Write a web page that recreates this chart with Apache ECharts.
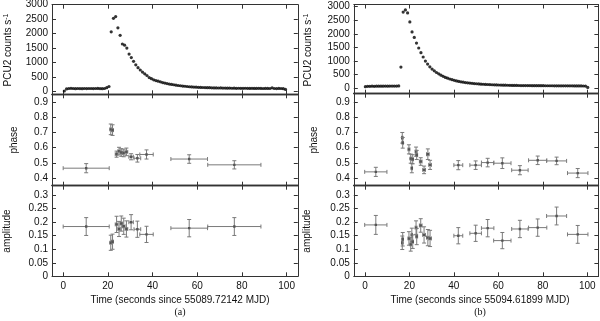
<!DOCTYPE html>
<html><head><meta charset="utf-8">
<script src="https://cdn.jsdelivr.net/npm/echarts@6/dist/echarts.min.js"></script>
<style>html,body{margin:0;padding:0;background:#fff}#c{width:600px;height:321px}</style>
</head><body><div id="c"></div>
<script>
// ---------- data ----------
const xTicks = [0, 20, 40, 60, 80, 100];
const countTicks = [0, 500, 1000, 1500, 2000, 2500, 3000];
const phaseTicks = [0.4, 0.5, 0.6, 0.7, 0.8, 0.9];
const ampTicks = [0, 0.05, 0.1, 0.15, 0.2, 0.25, 0.3];

// panel (a) light curve, 1 s bins starting at t = 0.5
const countsA = [15, 85, 100, 105, 100, 95, 100, 98, 95, 100, 98, 100, 100, 98, 100, 102, 98, 95, 100, 130,
  170, 2060, 2530, 2590, 2200, 1940, 1640, 1600, 1500, 1290, 1170, 1040, 920, 820, 740, 670, 610, 550, 480, 440,
  400, 375, 355, 330, 305, 290, 270, 255, 240, 230, 215, 205, 195, 185, 178, 170, 162, 155, 150, 145,
  140, 138, 135, 132, 130, 128, 125, 122, 120, 118, 120, 116, 115, 112, 115, 110, 112, 108, 110, 108,
  105, 110, 106, 104, 108, 104, 102, 106, 104, 100, 104, 102, 100, 125, 100, 98, 102, 100, 95, 70];
// panel (b) light curve, 1 s bins starting at t = 0.2
const countsB = [60, 70, 72, 75, 72, 75, 78, 75, 78, 80, 78, 80, 82, 80, 82, 85, 780, 2800, 2880, 2770,
  2440, 2070, 1870, 1660, 1480, 1310, 1150, 1000, 890, 790, 705, 640, 580, 530, 480, 440, 400, 370, 340, 315,
  290, 270, 252, 236, 222, 210, 200, 190, 180, 172, 165, 158, 152, 147, 142, 138, 134, 130, 126, 122,
  119, 116, 114, 112, 110, 108, 106, 104, 103, 102, 100, 100, 98, 98, 97, 96, 96, 95, 95, 94,
  94, 93, 93, 92, 92, 91, 91, 90, 90, 90, 89, 89, 88, 88, 87, 87, 86, 85, 84, 80, 30];
const startA = 0.5, startB = 0.2;

// panel (a) pulse fits
const tA = [10.3, 21.3, 22.1, 23.9, 25.0, 26.0, 27.1, 28.3, 30.4, 33.2, 37.3, 56.4, 76.6];
const tErrA = [10.3, 0.4, 0.4, 0.6, 0.5, 0.5, 0.6, 0.6, 1.0, 1.5, 3.0, 8.2, 11.9];
const phaseA = [0.465, 0.72, 0.715, 0.557, 0.577, 0.568, 0.565, 0.572, 0.54, 0.53, 0.555, 0.525, 0.487];
const phaseErrA = [0.03, 0.035, 0.035, 0.02, 0.025, 0.025, 0.025, 0.025, 0.02, 0.025, 0.03, 0.028, 0.027];
const ampA = [0.184, 0.124, 0.128, 0.192, 0.175, 0.195, 0.185, 0.175, 0.200, 0.174, 0.155, 0.178, 0.184];
const ampErrA = [0.033, 0.028, 0.028, 0.03, 0.028, 0.028, 0.03, 0.03, 0.028, 0.03, 0.03, 0.032, 0.033];

// panel (b) pulse fits
const tB = [4.9, 16.8, 17.0, 19.8, 20.6, 21.1, 21.5, 23.0, 23.3, 25.1, 26.6, 28.3, 29.3, 42.0, 49.8, 55.2, 61.8, 69.7, 77.7, 86.2, 95.7];
const tErrB = [5, 0.3, 0.3, 0.4, 0.3, 0.3, 0.3, 0.4, 0.4, 0.6, 0.6, 0.6, 0.6, 2, 2.6, 2.8, 3.9, 3.7, 4.1, 4.5, 4.6];
const phaseB = [0.441, 0.665, 0.632, 0.589, 0.528, 0.465, 0.524, 0.574, 0.552, 0.509, 0.454, 0.557, 0.487, 0.485, 0.485, 0.502, 0.498, 0.452, 0.517, 0.513, 0.433];
const phaseErrB = [0.03, 0.035, 0.035, 0.03, 0.03, 0.03, 0.03, 0.03, 0.03, 0.025, 0.025, 0.035, 0.03, 0.03, 0.028, 0.028, 0.035, 0.03, 0.028, 0.025, 0.03];
const ampB = [0.19, 0.124, 0.137, 0.14, 0.118, 0.153, 0.128, 0.18, 0.147, 0.188, 0.153, 0.143, 0.14, 0.15, 0.159, 0.178, 0.132, 0.175, 0.18, 0.223, 0.155];
const ampErrB = [0.035, 0.025, 0.025, 0.025, 0.025, 0.025, 0.025, 0.025, 0.03, 0.025, 0.03, 0.03, 0.03, 0.03, 0.03, 0.032, 0.03, 0.032, 0.032, 0.033, 0.033];

const titleA = 'Time (seconds since 55089.72142 MJD)';
const titleB = 'Time (seconds since 55094.61899 MJD)';

// ---------- build ----------
const FONT = '"Liberation Sans", Arial, sans-serif';
const AX = '#333';
const panels = [
  {left: 52, width: 245.8, rows: [
    {top: 4.7, height: 89.6, min: -100, max: 3000, ticks: countTicks},
    {top: 94.3, height: 91.4, min: 0.35, max: 0.95, ticks: phaseTicks},
    {top: 185.7, height: 90.6, min: 0, max: 0.335, ticks: ampTicks}]},
  {left: 353.8, width: 244.6, rows: [
    {top: 4.5, height: 89.2, min: -200, max: 3080, ticks: countTicks},
    {top: 93.7, height: 92.0, min: 0.35, max: 0.955, ticks: phaseTicks},
    {top: 185.7, height: 90.6, min: 0, max: 0.335, ticks: ampTicks}]}
];
const grid = [], xAxis = [], yAxis = [];
panels.forEach((p, pi) => {
  p.rows.forEach((r, ri) => {
    const g = grid.length;
    grid.push({left: p.left, top: r.top, width: p.width, height: r.height, containLabel: false, outerBoundsMode: 'none'});
    ['bottom', 'top'].forEach((pos) => {
      const sep = (pos === 'bottom' && ri < 2) || (pos === 'top' && ri > 0);
      xAxis.push({type: 'value', gridIndex: g, position: pos, min: -5, max: 105,
        splitLine: {show: false},
        axisLine: {show: true, onZero: false, lineStyle: {color: AX, width: sep ? 1.4 : 1}},
        axisTick: {show: true, inside: true, length: 4, customValues: xTicks, lineStyle: {color: AX, width: 1}},
        axisLabel: {show: pos === 'bottom' && ri === 2, customValues: xTicks, color: '#111', fontSize: 10, fontFamily: FONT, margin: 5}});
    });
    ['left', 'right'].forEach((pos) => {
      yAxis.push({type: 'value', gridIndex: g, position: pos, min: r.min, max: r.max,
        splitLine: {show: false},
        axisLine: {show: true, onZero: false, lineStyle: {color: AX, width: 1}},
        axisTick: {show: true, inside: true, length: 4, customValues: r.ticks, lineStyle: {color: AX, width: 1}},
        axisLabel: {show: pos === 'left', customValues: r.ticks, color: '#111', fontSize: 10, fontFamily: FONT, margin: 4,
          formatter: (v) => String(v)}});
    });
  });
});

function errRender(params, api) {
  const x = api.value(0), y = api.value(1), dx = api.value(2), dy = api.value(3);
  const c = api.coord([x, y]);
  const l = api.coord([x - dx, y]), r = api.coord([x + dx, y]);
  const t = api.coord([x, y + dy]), b = api.coord([x, y - dy]);
  const cap = 2;
  const st = {stroke: '#7a7a7a', lineWidth: 1};
  const line = (x1, y1, x2, y2) => ({type: 'line', shape: {x1, y1, x2, y2}, style: st});
  return {type: 'group', children: [
    line(l[0], c[1], r[0], c[1]),
    line(c[0], t[1], c[0], b[1]),
    line(l[0], c[1] - cap, l[0], c[1] + cap),
    line(r[0], c[1] - cap, r[0], c[1] + cap),
    line(c[0] - cap, t[1], c[0] + cap, t[1]),
    line(c[0] - cap, b[1], c[0] + cap, b[1]),
    {type: 'rect', shape: {x: c[0] - 1.2, y: c[1] - 1.2, width: 2.4, height: 2.4}, style: {fill: '#555'}}
  ]};
}
const zip4 = (a, b, c, d) => a.map((v, i) => [v, b[i], c[i], d[i]]);
const series = [];
function addCounts(g, vals, start) {
  series.push({type: 'scatter', xAxisIndex: 2 * g, yAxisIndex: 2 * g, symbol: 'circle', symbolSize: 3.2,
    itemStyle: {color: '#000'}, silent: true,
    data: vals.map((v, i) => [start + i, v])});
}
function addErr(g, data) {
  series.push({type: 'custom', xAxisIndex: 2 * g, yAxisIndex: 2 * g, renderItem: errRender, clip: true, silent: true,
    encode: {x: [0], y: [1]}, data});
}
addCounts(0, countsA, startA);
addErr(1, zip4(tA, phaseA, tErrA, phaseErrA));
addErr(2, zip4(tA, ampA, tErrA, ampErrA));
addCounts(3, countsB, startB);
addErr(4, zip4(tB, phaseB, tErrB, phaseErrB));
addErr(5, zip4(tB, ampB, tErrB, ampErrB));

const txt = (x, y, text, opts) => Object.assign({type: 'text', x, y, silent: true,
  style: Object.assign({text, fill: '#111', font: '10px ' + FONT, textAlign: 'center', textVerticalAlign: 'middle'}, opts || {})});
const vtxt = (x, y, text, rich) => ({type: 'text', x, y, rotation: Math.PI / 2, silent: true,
  style: {text, fill: '#111', font: '10px ' + FONT, textAlign: 'center', textVerticalAlign: 'middle', rich}});
const supRich = {sup: {fontSize: 7, fontFamily: FONT, verticalAlign: 'top', lineHeight: 12}, n: {fontSize: 10, fontFamily: FONT, lineHeight: 12}};
const graphic = [];
[[0, titleA, '(a)'], [300, titleB, '(b)']].forEach(([ox, title, lab]) => {
  graphic.push(vtxt(ox + 8.3, 50, '{n|PCU2 counts s}{sup|-1}', supRich));
  graphic.push(vtxt(ox + 14.7, 140, 'phase'));
  graphic.push(vtxt(ox + 7, 231, 'amplitude'));
  graphic.push(txt(ox + 180, 300, title));
  graphic.push(txt(ox + 180, 312.5, lab, {font: '10px "Liberation Serif", "Times New Roman", serif'}));
});

const chart = echarts.init(document.getElementById('c'), null, {renderer: 'canvas'});
chart.setOption({animation: false, backgroundColor: '#fff', grid, xAxis, yAxis, series, graphic});
</script></body></html>
